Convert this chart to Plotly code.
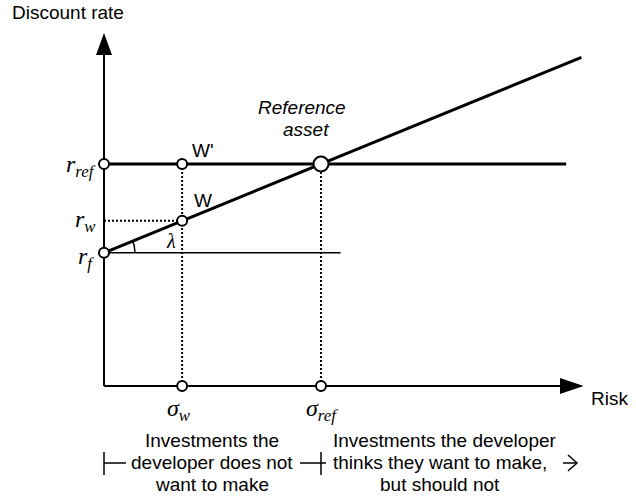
import numpy as np
import plotly.graph_objects as go

# ---------------- data ----------------
r_f = 3.0            # risk-free rate
r_ref = 5.0          # rate of the reference asset
r_w = 3.72           # appropriate rate for investment W
sigma_w = 0.36       # risk of investment W
sigma_ref = 1.0      # risk of the reference asset
market_x = [0.0, 2.2]        # market line (risk)
market_y = [3.0, 7.4]        # market line (discount rate)
ref_line_x = [0.0, 2.13]     # horizontal hurdle line at r_ref
rf_line_x = [0.0, 1.09]      # thin horizontal line at r_f
y_axis_top = 7.95
x_axis_end = 2.21

point_x = [0.0, 0.0, sigma_w, sigma_w, sigma_w, sigma_ref]
point_y = [r_f, r_ref, r_w, r_ref, 0.0, 0.0]

# ---------------- geometry helpers ----------------
W, H = 636, 504
X0, Y0 = 104.0, 386.0      # pixel position of the origin
SX, SY = 217.0, 44.4       # pixels per data unit
def px2x(p): return (p - X0) / SX
def py2y(p): return (Y0 - p) / SY

sans = "Liberation Sans, Arial, sans-serif"
serif = "Liberation Serif, Times New Roman, serif"
BLACK = "#000000"

fig = go.Figure()

def line(xs, ys, width=2, dash=None):
    fig.add_trace(go.Scatter(x=xs, y=ys, mode="lines", hoverinfo="skip",
                             line=dict(color=BLACK, width=width, dash=dash),
                             showlegend=False))

DOT = "2px,2px"
# axes
line([0, 0], [0, py2y(55)], 2)
line([0, px2x(561)], [0, 0], 2)
# dotted guides
line([sigma_w, sigma_w], [0, r_ref], 2, DOT)
line([sigma_ref, sigma_ref], [0, r_ref], 2, DOT)
line([0, sigma_w], [r_w, r_w], 2, DOT)
# rate lines
line(rf_line_x, [r_f, r_f], 1.6)
line(ref_line_x, [r_ref, r_ref], 3)
line(market_x, market_y, 3)

# lambda arc (pixel-space circle around r_f point)
theta = np.arctan((market_y[1] - market_y[0]) * SY / ((market_x[1] - market_x[0]) * SX))
t = np.linspace(0, theta, 20)
R = 31
line(list(R * np.cos(t) / SX), list(r_f + R * np.sin(t) / SY), 1.5)

# bracket under the chart
yb = py2y(463)
line([0, 0], [py2y(452), py2y(475)], 1.5)
line([0, px2x(126)], [yb, yb], 1.5)
line([px2x(300), px2x(326)], [yb, yb], 1.5)
line([sigma_ref, sigma_ref], [py2y(452), py2y(475)], 1.5)
line([px2x(563), px2x(577)], [yb, yb], 1.5)
line([px2x(568), px2x(577), px2x(568)], [py2y(455), yb, py2y(471)], 1.5)

# points
fig.add_trace(go.Scatter(x=point_x, y=point_y, mode="markers", hoverinfo="skip",
                         marker=dict(size=10, color="white", line=dict(color=BLACK, width=2)),
                         showlegend=False))
fig.add_trace(go.Scatter(x=[sigma_ref], y=[r_ref], mode="markers", hoverinfo="skip",
                         marker=dict(size=15, color="white", line=dict(color=BLACK, width=2)),
                         showlegend=False))

# arrowheads (filled triangles)
shapes = []
tipx, tipy = 0.0, y_axis_top
shapes.append(dict(type="path", xref="x", yref="y", fillcolor=BLACK, line=dict(width=0),
                   path=f"M {tipx} {tipy} L {px2x(X0-8)} {py2y(55)} L {px2x(X0+8)} {py2y(55)} Z"))
shapes.append(dict(type="path", xref="x", yref="y", fillcolor=BLACK, line=dict(width=0),
                   path=f"M {x_axis_end} 0 L {px2x(560)} {py2y(Y0-8)} L {px2x(560)} {py2y(Y0+8)} Z"))

ann = []
def text(s, xp, yp, size=19, font=sans, xanchor="center", yanchor="middle"):
    ann.append(dict(text=s, x=px2x(xp), y=py2y(yp), xref="x", yref="y", showarrow=False,
                    xanchor=xanchor, yanchor=yanchor,
                    font=dict(family=font, size=size, color=BLACK)))

text("Discount rate", 10, 12, xanchor="left")
text("Risk", 589, 398, xanchor="left")
text("W'", 203, 150)
text("W", 203, 200)
text("<i>Reference</i>", 302, 107)
text("<i>asset</i>", 306, 129)
text("<i>λ</i>", 171, 241, size=20, font=serif)
text("<i>r</i><sub><i>ref</i></sub>", 98, 166, size=24, font=serif, xanchor="right")
text("<i>r</i><sub><i>w</i></sub>", 98, 221, size=24, font=serif, xanchor="right")
text("<i>r</i><sub><i>f</i></sub>", 96, 258, size=24, font=serif, xanchor="right")
text("<i>σ</i><sub><i>w</i></sub>", 179, 410, size=24, font=serif)
text("<i>σ</i><sub><i>ref</i></sub>", 322, 410, size=24, font=serif)

text("Investments the", 212, 440)
text("developer does not", 212, 462)
text("want to make", 212, 484)
text("Investments the developer", 445, 440)
text("thinks they want to make,", 440, 462)
text("but should not", 440, 484)

fig.update_layout(
    width=W, height=H, margin=dict(l=0, r=0, t=0, b=0),
    paper_bgcolor="white", plot_bgcolor="white",
    xaxis=dict(range=[px2x(0), px2x(W)], visible=False, fixedrange=True),
    yaxis=dict(range=[py2y(H), py2y(0)], visible=False, fixedrange=True),
    shapes=shapes, annotations=ann, showlegend=False,
)
fig.write_html("out.html", config={"displayModeBar": False},
               post_script="document.body.style.margin='0px';")
